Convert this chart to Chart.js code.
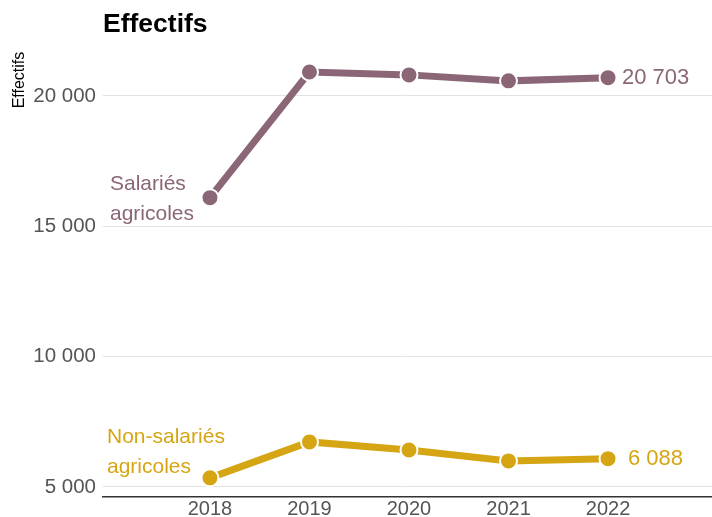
<!DOCTYPE html>
<html>
<head>
<meta charset="utf-8">
<script src="https://cdn.jsdelivr.net/npm/chart.js@4"></script>
<style>
  html, body { margin: 0; padding: 0; background: #fff; }
  #c { display: block; }
</style>
</head>
<body>
<canvas id="c" width="712" height="517"></canvas>
<script>
// données
const years = [2018, 2019, 2020, 2021, 2022];
const salaries = [16100, 20920, 20810, 20580, 20703];
const nonSalaries = [5350, 6730, 6420, 6000, 6088];
const yTicks = [5000, 10000, 15000, 20000];

const violet = '#8a6677';
const jaune = '#d6a514';
const FONT = 'Arial, "Liberation Sans", sans-serif';

const fmt = v => String(v).replace(/\B(?=(\d{3})+(?!\d))/g, ' ');

// titres + étiquettes
const labelsPlugin = {
  id: 'labels',
  afterDraw(chart) {
    const ctx = chart.ctx;
    const area = chart.chartArea;
    ctx.save();
    ctx.fillStyle = '#000';
    ctx.font = 'bold 26.5px ' + FONT;
    ctx.textBaseline = 'alphabetic';
    ctx.textAlign = 'left';
    ctx.fillText('Effectifs', area.left, 32);

    ctx.save();
    ctx.translate(24, 80);
    ctx.rotate(-Math.PI / 2);
    ctx.textAlign = 'center';
    ctx.font = '16px "Liberation Sans Narrow", "Arial Narrow", ' + FONT;
    ctx.fillText('Effectifs', 0, 0);
    ctx.restore();

    ctx.textBaseline = 'middle';
    const m0 = chart.getDatasetMeta(0).data;
    const m1 = chart.getDatasetMeta(1).data;
    const last0 = m0[m0.length - 1], last1 = m1[m1.length - 1];
    ctx.font = '22px ' + FONT;
    ctx.fillStyle = violet;
    ctx.fillText(fmt(salaries[salaries.length - 1]), last0.x + 14, last0.y);
    ctx.fillStyle = jaune;
    ctx.fillText(fmt(nonSalaries[nonSalaries.length - 1]), last1.x + 20, last1.y);

    ctx.font = '21px ' + FONT;
    ctx.fillStyle = violet;
    ctx.fillText('Salariés', 110, m0[0].y - 13);
    ctx.fillText('agricoles', 110, m0[0].y + 17);
    ctx.fillStyle = jaune;
    ctx.fillText('Non-salariés', 107, m1[0].y - 41);
    ctx.fillText('agricoles', 107, m1[0].y - 11);
    ctx.restore();
  }
};

const mk = (vals, color) => ({
  data: years.map((y, i) => ({ x: y, y: vals[i] })),
  borderColor: color,
  backgroundColor: color,
  borderWidth: 7,
  pointRadius: 8.5,
  pointBorderColor: '#fff',
  pointBorderWidth: 2,
  pointBackgroundColor: color,
  tension: 0
});

new Chart(document.getElementById('c'), {
  type: 'line',
  data: { datasets: [mk(salaries, violet), mk(nonSalaries, jaune)] },
  plugins: [labelsPlugin],
  options: {
    responsive: false,
    animation: false,
    layout: { autoPadding: false, padding: { top: 40, right: 0, left: 0, bottom: 0 } },
    plugins: { legend: { display: false }, tooltip: { enabled: false } },
    scales: {
      x: {
        type: 'linear',
        min: 2016.925,
        max: 2023.045,
        afterBuildTicks: s => { s.ticks = years.map(v => ({ value: v })); },
        afterFit: s => { s.height = 20; s.paddingLeft = 0; s.paddingRight = 0; },
        grid: { display: false, drawTicks: false },
        border: { display: true, color: '#333', width: 1.5 },
        ticks: {
          padding: 0,
          color: '#555',
          font: { size: 20, family: FONT },
          callback: v => String(v)
        }
      },
      y: {
        min: 4616,
        max: 22148,
        afterBuildTicks: s => { s.ticks = yTicks.map(v => ({ value: v })); },
        afterFit: s => { s.width = 103; },
        grid: { color: '#e3e3e3', lineWidth: 1, drawTicks: false },
        border: { display: false },
        ticks: {
          padding: 7,
          color: '#555',
          font: { size: 20.5, family: FONT },
          callback: v => fmt(v)
        }
      }
    }
  }
});
</script>
</body>
</html>
